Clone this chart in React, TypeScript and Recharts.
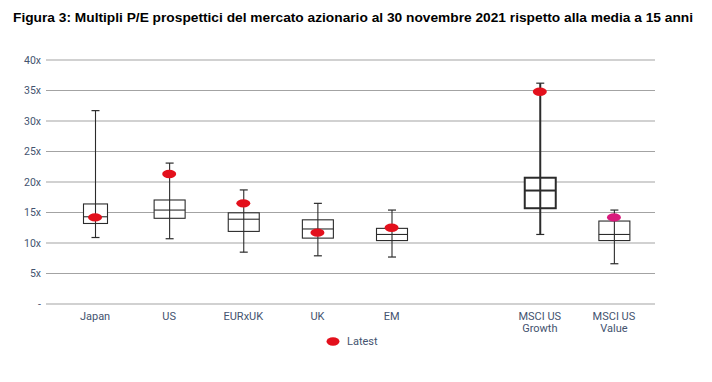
import { ComposedChart, Bar, Scatter, XAxis, YAxis, CartesianGrid, Legend, Cell } from 'recharts'

// categories (the empty slot keeps the gap before the MSCI pair)
const categories = ['Japan', 'US', 'EURxUK', 'UK', 'EM', ' ', 'MSCI US\nGrowth', 'MSCI US\nValue']
const lows = [10.9, 10.7, 8.5, 7.9, 7.7, null, 11.4, 6.6]
const q1s = [13.2, 14.05, 11.9, 10.8, 10.4, null, 15.7, 10.4]
const medians = [14.3, 15.4, 13.9, 12.3, 11.4, null, 18.6, 11.4]
const q3s = [16.4, 17.05, 14.95, 13.8, 12.4, null, 20.7, 13.6]
const highs = [31.7, 23.1, 18.7, 16.5, 15.4, null, 36.2, 15.4]
const latest = [14.2, 21.3, 16.5, 11.7, 12.5, null, 34.8, 14.2]
const yTicks = [0, 5, 10, 15, 20, 25, 30, 35, 40]

const TITLE = 'Figura 3: Multipli P/E prospettici del mercato azionario al 30 novembre 2021 rispetto alla media a 15 anni'

type Row = {
  name: string
  low: number | null
  q1: number | null
  median: number | null
  q3: number | null
  high: number | null
  latest: number | null
}

const data: Row[] = categories.map((name, i) => ({
  name,
  low: lows[i],
  q1: q1s[i],
  median: medians[i],
  q3: q3s[i],
  high: highs[i],
  latest: latest[i],
}))

const LABEL = '#44536f'
const FONT = "'Liberation Sans Narrow', 'Roboto', 'Liberation Sans', sans-serif"
const RED = '#e3101c'
const MAGENTA = '#d91a7c'

function BoxShape(props: any) {
  const { x, y, width, height, payload } = props
  if (payload.low == null || payload.high == null) return <g />
  const top = Math.min(y, y + height)
  const bottom = Math.max(y, y + height)
  const span = payload.high - payload.low
  const py = (v: number) => bottom - ((v - payload.low) / span) * (bottom - top)
  const cx = x + width / 2
  const w = payload.name === 'Japan' ? 24 : 31
  const sw = payload.name.includes('Growth') ? 2 : 1.1
  const stroke = '#2b2b2b'
  return (
    <g>
      <line x1={cx} x2={cx} y1={top} y2={bottom} stroke={stroke} strokeWidth={sw} />
      <line x1={cx - 4} x2={cx + 4} y1={top} y2={top} stroke={stroke} strokeWidth={1.2} />
      <line x1={cx - 4} x2={cx + 4} y1={bottom} y2={bottom} stroke={stroke} strokeWidth={1.2} />
      <rect x={cx - w / 2} y={py(payload.q3)} width={w} height={py(payload.q1) - py(payload.q3)}
        fill="#fff" stroke={stroke} strokeWidth={sw} />
      <line x1={cx} x2={cx} y1={py(payload.q3)} y2={py(payload.q1)} stroke={stroke} strokeWidth={sw} />
      <line x1={cx - w / 2} x2={cx + w / 2} y1={py(payload.median)} y2={py(payload.median)} stroke={stroke} strokeWidth={sw} />
    </g>
  )
}

function Dot(props: any) {
  const { cx, cy, fill, payload } = props
  if (payload.latest == null || cy == null || isNaN(cy)) return <g />
  return <ellipse cx={cx} cy={cy} rx={7} ry={4.2} fill={fill} />
}

function XTick(props: any) {
  const { x, y, payload } = props
  const lines = String(payload.value).split('\n')
  return (
    <text x={x} y={y} textAnchor="middle" fill={LABEL} fontSize={11} fontFamily={FONT}>
      {lines.map((l, i) => (
        <tspan key={i} x={x} dy={i === 0 ? 16 : 12}>{l}</tspan>
      ))}
    </text>
  )
}

function LegendContent() {
  return (
    <div style={{ height: 16, display: 'flex', alignItems: 'center', gap: 7, fontFamily: FONT, fontSize: 11, color: LABEL }}>
      <svg width={14} height={9}><ellipse cx={7} cy={4.5} rx={6.5} ry={4.2} fill={RED} /></svg>
      <span>Latest</span>
    </div>
  )
}

export default function App() {
  return (
    <div style={{ position: 'relative', width: 712, height: 382, background: '#fff' }}>
      <style>{'body{margin:0}'}</style>
      <svg width={712} height={30} style={{ position: 'absolute', left: 0, top: 0 }}>
        <text x={13} y={22} fontSize={13} fontWeight="bold" fontFamily="'Liberation Sans', Arial, sans-serif"
          fill="#000" textLength={680} lengthAdjust="spacingAndGlyphs">{TITLE}</text>
      </svg>
      <div style={{ position: 'absolute', left: 0, top: 0 }}>
        <ComposedChart width={712} height={382} data={data} margin={{ top: 60, right: 57, left: 6, bottom: 22 }}>
          <CartesianGrid horizontal vertical={false} stroke="#a3a3a3" strokeWidth={1} />
          <XAxis dataKey="name" type="category" interval={0} padding={{ left: 12, right: 4 }}
            tick={<XTick />} tickLine={false} axisLine={false} tickSize={0} tickMargin={0} height={40} />
          <YAxis type="number" domain={[0, 40]} ticks={yTicks} interval={0} width={40}
            tickFormatter={(v: number) => (v === 0 ? '-' : `${v}x`)}
            tick={{ fill: LABEL, fontSize: 10.5, fontFamily: FONT }} tickLine={false} axisLine={false}
            tickSize={0} tickMargin={5} />
          <Bar dataKey={(d: Row) => (d.low == null ? null : [d.low, d.high])} barSize={31}
            shape={<BoxShape />} legendType="none" isAnimationActive={false} />
          <Scatter dataKey="latest" name="Latest" shape={<Dot />} fill={RED} isAnimationActive={false}>
            {data.map((d) => (
              <Cell key={d.name} fill={d.name.includes('Value') ? MAGENTA : RED} />
            ))}
          </Scatter>
          <Legend content={<LegendContent />} wrapperStyle={{ top: 333, left: 326, width: 'auto' }} />
        </ComposedChart>
      </div>
    </div>
  )
}
